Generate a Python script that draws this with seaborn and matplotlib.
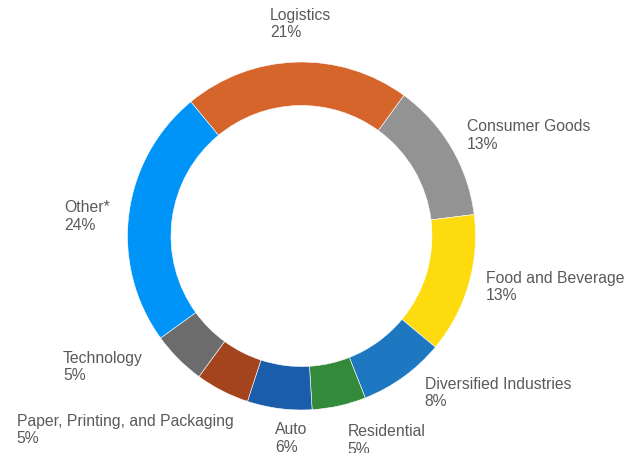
import numpy as np
import matplotlib
matplotlib.use("Agg")
import matplotlib.pyplot as plt
import seaborn as sns

# sector shares (clockwise, starting with Logistics)
sectors = ["Logistics", "Consumer Goods", "Food and Beverage", "Diversified Industries",
           "Residential", "Auto", "Paper, Printing, and Packaging", "Technology", "Other*"]
shares = [21, 13, 13, 8, 5, 6, 5, 5, 24]
colors = ["#D6652B", "#939393", "#FDDB0F", "#1E78C1", "#338A3A",
          "#1A5DAB", "#A3441F", "#6C6C6C", "#0093F8"]

# small label nudges in pixels (right, down) to mimic the original placement
nudges = [(5, -12), (-7, 1), (-8, -5), (6, -5), (3, 9), (-1, 4), (23, 16), (-17, -10), (7, 6)]

sns.set_theme(style="white")
plt.rcParams['font.family'] = ['Liberation Sans', 'DejaVu Sans']

fig = plt.figure(figsize=(6.39, 4.53), dpi=100)
ax = fig.add_axes([0, 0, 1, 1])

start = 129.5  # degrees, matplotlib convention
scale = 174.0  # pixels per unit radius
wedges, _ = ax.pie(shares, colors=colors, startangle=start, counterclock=False,
                   radius=1.0, wedgeprops=dict(width=0.25, edgecolor="white", linewidth=0.4))

# labels placed around the ring at each slice's middle angle
total = sum(shares)
cum = 0
for name, val, (nx, ny) in zip(sectors, shares, nudges):
    mid = np.deg2rad(start - 360 * (cum + val / 2) / total)
    cum += val
    x, y = 1.15 * np.cos(mid), 1.15 * np.sin(mid)
    if abs(x) < 0.1 and y > 0:
        ha = "center"
    elif x > -0.2:
        ha = "left"
    else:
        ha = "right"
    ax.text(x + nx / scale, y - ny / scale, f"{name}\n{val}%", ha=ha, va="center",
            multialignment="left", fontsize=11.3, color="#5a5a5a", linespacing=1.2)

ax.set_xlim(-301.5 / scale, (639 - 301.5) / scale)
ax.set_ylim(-(453 - 236) / scale, 236 / scale)
ax.set_aspect("equal")
ax.axis("off")

fig.savefig("out.png", dpi=100)
